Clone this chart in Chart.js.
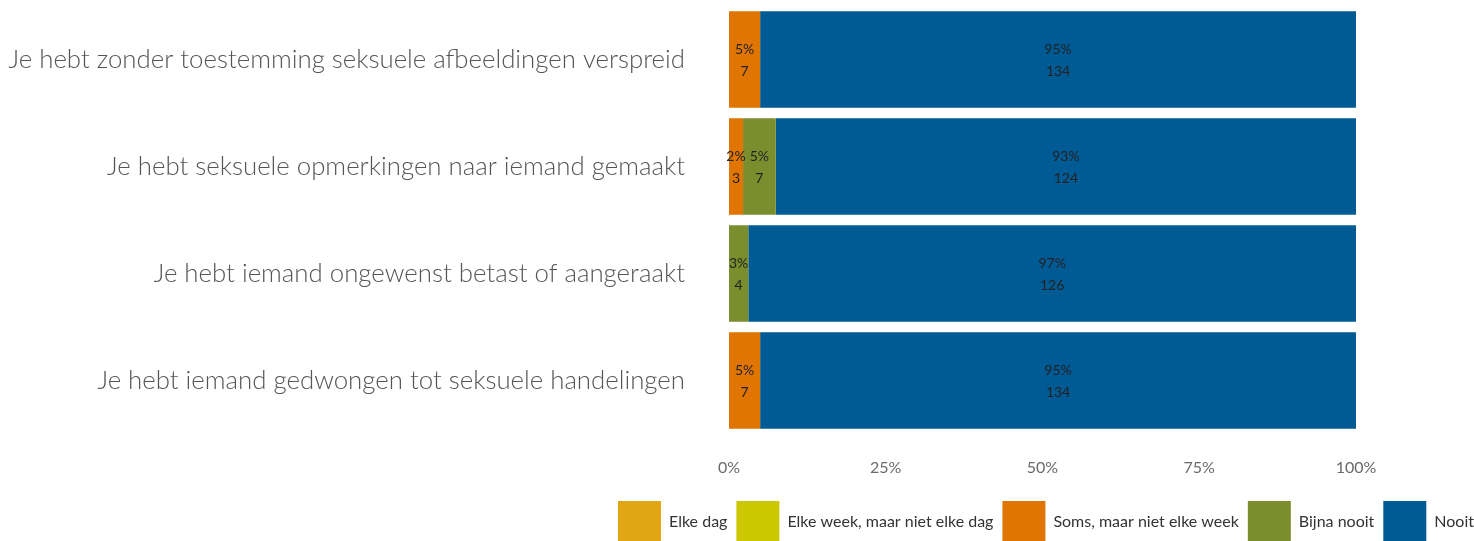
<!DOCTYPE html>
<html lang="nl">
<head>
    <meta charset="UTF-8">
    <title>Seksueel grensoverschrijdend gedrag</title>
    <script src="https://cdn.jsdelivr.net/npm/chart.js"></script>
    <style>
        body {
            margin: 0;
            padding: 0;
            background: #fff;
            overflow: hidden;
        }
        .chart-container {
            position: absolute;
            left: 0;
            top: 0;
            width: 2092px;
            height: 553px;
        }
    </style>
</head>
<body>
    <div class="chart-container">
        <canvas id="gedragChart"></canvas>
    </div>

    <script>
        // Vragen (categorieen) en aantallen per antwoord
        const vragen = [
            'Je hebt zonder toestemming seksuele afbeeldingen verspreid',
            'Je hebt seksuele opmerkingen naar iemand gemaakt',
            'Je hebt iemand ongewenst betast of aangeraakt',
            'Je hebt iemand gedwongen tot seksuele handelingen'
        ];
        const antwoorden = ['Elke dag', 'Elke week, maar niet elke dag', 'Soms, maar niet elke week', 'Bijna nooit', 'Nooit'];
        const elkeDag = [0, 0, 0, 0];
        const elkeWeek = [0, 0, 0, 0];
        const soms = [7, 3, 0, 7];
        const bijnaNooit = [0, 7, 4, 0];
        const nooit = [134, 124, 126, 134];
        const xTicks = ['0%', '25%', '50%', '75%', '100%'];
        const kleuren = ['#e0a614', '#ccc800', '#e07502', '#7a8e2e', '#005a94'];

        const aantallen = [elkeDag, elkeWeek, soms, bijnaNooit, nooit];
        const totalen = vragen.map((v, i) => aantallen.reduce((s, a) => s + a[i], 0));
        const procenten = aantallen.map(a => a.map((n, i) => n / totalen[i] * 100));

        const labelFont = 'Lato, "Open Sans", sans-serif';
        const breedte = 2092;

        // Percentage en aantal in het midden van elk segment
        const waardeLabels = {
            id: 'waardeLabels',
            afterDatasetsDraw(chart) {
                const ctx = chart.ctx;
                ctx.save();
                ctx.font = '14px ' + labelFont;
                ctx.fillStyle = '#222';
                ctx.textAlign = 'center';
                ctx.textBaseline = 'middle';
                chart.data.datasets.forEach((ds, d) => {
                    chart.getDatasetMeta(d).data.forEach((bar, i) => {
                        const n = aantallen[d][i];
                        if (!n) return;
                        const x = (bar.x + bar.base) / 2;
                        ctx.fillText(Math.round(procenten[d][i]) + '%', x, bar.y - 10);
                        ctx.fillText(String(n), x, bar.y + 12);
                    });
                });
                ctx.restore();
            }
        };

        const ctx = document.getElementById('gedragChart').getContext('2d');
        new Chart(ctx, {
            type: 'bar',
            data: {
                labels: vragen,
                datasets: antwoorden.map((naam, d) => ({
                    label: naam,
                    data: procenten[d],
                    backgroundColor: kleuren[d],
                    borderWidth: 0,
                    barPercentage: 0.9,
                    categoryPercentage: 1.0
                }))
            },
            options: {
                indexAxis: 'y',
                responsive: true,
                maintainAspectRatio: false,
                animation: false,
                layout: { padding: { top: 6, left: 0, right: 0, bottom: 0 } },
                scales: {
                    x: {
                        stacked: true,
                        min: 0,
                        max: 100,
                        grid: { display: false, drawTicks: false },
                        border: { display: false },
                        ticks: {
                            stepSize: 25,
                            padding: 24,
                            color: '#6a6a6a',
                            font: { family: labelFont, size: 16 },
                            callback: (v, i) => xTicks[i]
                        },
                        afterFit(scale) {
                            scale.paddingRight = breedte - 1356;
                            scale.height = 58;
                        }
                    },
                    y: {
                        stacked: true,
                        grid: { display: false, drawTicks: false },
                        border: { display: false },
                        ticks: {
                            padding: 44,
                            color: '#555',
                            font: { family: labelFont, size: 25.8, weight: '300' }
                        },
                        afterFit(scale) {
                            scale.width = 729;
                            scale.paddingTop = 0;
                            scale.paddingBottom = 0;
                        }
                    }
                },
                plugins: {
                    legend: {
                        position: 'bottom',
                        align: 'center',
                        labels: {
                            boxWidth: 43,
                            boxHeight: 42,
                            padding: 9,
                            color: '#333',
                            font: { family: labelFont, size: 16 }
                        }
                    },
                    tooltip: { enabled: false }
                }
            },
            plugins: [waardeLabels]
        });
    </script>
</body>
</html>
